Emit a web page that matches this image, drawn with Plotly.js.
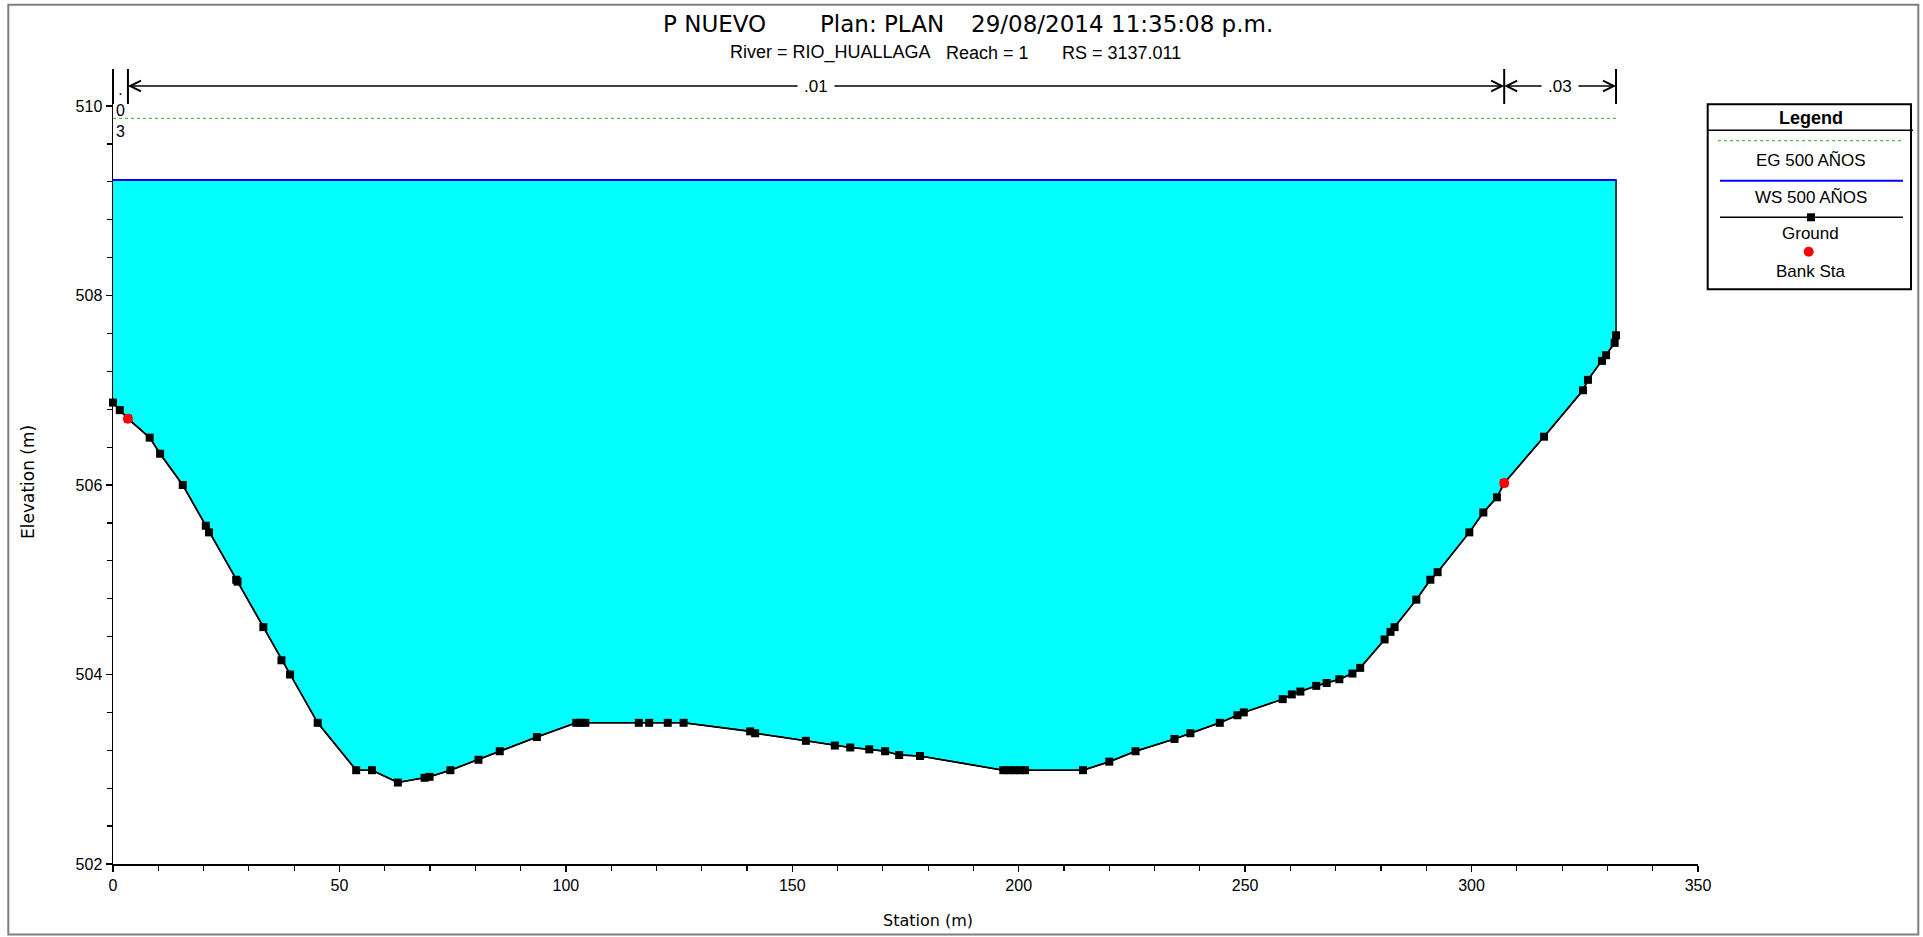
<!DOCTYPE html>
<html>
<head>
<meta charset="utf-8">
<script src="https://cdn.plot.ly/plotly-3.0.1.min.js"></script>
<style>
html,body{margin:0;padding:0;background:#fff;}
#chart{width:1923px;height:937px;}
</style>
</head>
<body>
<div id="chart"></div>
<script>
// ---------------- DATA ----------------
const titleParts = ["P NUEVO", "Plan: PLAN", "29/08/2014", "11:35:08 p.m."];
const subtitleParts = ["River = RIO_HUALLAGA", "Reach = 1", "RS = 3137.011"];

const stations = [0, 1.5, 3.3, 8.1, 10.4, 15.4, 20.5, 21.2, 27.2, 27.5, 33.2, 37.2, 39.1, 45.2,
  53.7, 57.2, 62.9, 68.8, 69.9, 74.5, 80.7, 85.4, 93.6, 102.3, 103.3, 104.3, 116.1, 118.4, 122.5, 126.0,
  140.7, 141.8, 153.0, 159.4, 162.8, 167.0, 170.5, 173.6, 178.2, 196.6, 197.8, 199.0, 200.2, 201.4,
  214.2, 220.0, 225.8, 234.4, 237.9, 244.4, 248.3, 249.7, 258.3, 260.3, 262.2, 265.7, 268.0, 270.8,
  273.7, 275.4, 280.8, 282.1, 283.0, 287.8, 290.9, 292.5, 299.5, 302.6, 305.6, 307.2, 316.0, 324.6,
  325.7, 328.8, 329.7, 331.6, 331.9];
const elevations = [506.87, 506.79, 506.70, 506.50, 506.33, 506.00, 505.57, 505.50, 505.00, 504.98, 504.50, 504.15, 504.00, 503.49,
  502.99, 502.99, 502.86, 502.91, 502.92, 502.99, 503.10, 503.19, 503.34, 503.49, 503.49, 503.49, 503.49, 503.49, 503.49, 503.49,
  503.40, 503.38, 503.30, 503.25, 503.23, 503.21, 503.19, 503.15, 503.14, 502.99, 502.99, 502.99, 502.99, 502.99,
  502.99, 503.08, 503.19, 503.32, 503.38, 503.49, 503.57, 503.60, 503.74, 503.79, 503.82, 503.88, 503.91, 503.95,
  504.01, 504.07, 504.37, 504.45, 504.50, 504.79, 505.00, 505.08, 505.50, 505.71, 505.87, 506.02, 506.51, 507.00,
  507.11, 507.31, 507.37, 507.50, 507.58];
const bankStations = [3.3, 307.2];
const bankElevations = [506.70, 506.02];
const wsElevation = 509.22;   // WS 500 AÑOS
const egElevation = 509.87;   // EG 500 AÑOS
const manningN = [".03", ".01", ".03"];
const legendLabels = ["EG 500 AÑOS", "WS 500 AÑOS", "Ground", "Bank Sta"];
const xAxisTitle = "Station (m)";
const yAxisTitle = "Elevation (m)";

// ---------------- LAYOUT GEOMETRY ----------------
const FIG_W = 1923, FIG_H = 937;
const M = {l:113, r:225, t:69, b:73};
const PW = FIG_W - M.l - M.r, PH = FIG_H - M.t - M.b;
const PX = px => (px - M.l) / PW;
const PY = py => (M.t + PH - py) / PH;
const Y_MIN = 502, Y_MAX = 502 + PH / 94.75;
const yOfPx = py => Y_MIN + (M.t + PH - py) / PH * (Y_MAX - Y_MIN);

const ARIAL = "Liberation Sans, Arial, sans-serif";
const DEJA = "DejaVu Sans, Verdana, sans-serif";

const xFirst = stations[0], xLast = stations[stations.length - 1];

// ---------------- TRACES ----------------
const waterX = stations.concat([xLast, xFirst]);
const waterY = elevations.concat([wsElevation, wsElevation]);

const traces = [
  {x: waterX, y: waterY, type: 'scatter', mode: 'lines', fill: 'toself',
   fillcolor: '#00FFFF', line: {color: '#000000', width: 1.5}, hoverinfo: 'skip', showlegend: false},
  {x: [xFirst, xLast], y: [egElevation, egElevation], type: 'scatter', mode: 'lines',
   line: {color: '#2EA82E', width: 1, dash: 'dot'}, showlegend: false, name: legendLabels[0]},
  {x: [xFirst, xLast], y: [wsElevation, wsElevation], type: 'scatter', mode: 'lines',
   line: {color: '#0000FF', width: 2}, showlegend: false, name: legendLabels[1]},
  {x: stations, y: elevations, type: 'scatter', mode: 'lines+markers', cliponaxis: false,
   line: {color: '#000000', width: 1.6}, marker: {symbol: 'square', size: 8, color: '#000000'},
   showlegend: false, name: legendLabels[2]},
  {x: bankStations, y: bankElevations, type: 'scatter', mode: 'markers', cliponaxis: false,
   marker: {symbol: 'circle', size: 10, color: '#FF0000'}, showlegend: false, name: legendLabels[3]}
];

// ---------------- ANNOTATIONS & SHAPES ----------------
const annotations = [];
const shapes = [];

// outer frame
shapes.push({type: 'rect', xref: 'paper', yref: 'paper', x0: PX(8.3), x1: PX(1918.3), y0: PY(934.5), y1: PY(4.7),
  line: {color: '#7F7F7F', width: 2}, layer: 'below'});

// title pieces
const titleLeft = [661, 818, 969, 1109];
titleParts.forEach((t, i) => annotations.push({xref: 'paper', yref: 'paper', x: PX(titleLeft[i]), y: PY(24.5),
  xanchor: 'left', yanchor: 'middle', text: t, showarrow: false, font: {family: DEJA, size: 23, color: '#000'}}));
const subLeft = [727.7, 943.8, 1059.8];
subtitleParts.forEach((t, i) => annotations.push({xref: 'paper', yref: 'paper', x: PX(subLeft[i]), y: PY(52.7),
  xanchor: 'left', yanchor: 'middle', text: t, showarrow: false, font: {family: ARIAL, size: 18, color: '#000'}}));

// axis titles
annotations.push({xref: 'paper', yref: 'paper', x: PX(928), y: PY(920), text: xAxisTitle, showarrow: false,
  xanchor: 'center', yanchor: 'middle', font: {family: DEJA, size: 16, color: '#000'}});
annotations.push({xref: 'paper', yref: 'paper', x: PX(28), y: PY(482), text: yAxisTitle, showarrow: false,
  textangle: -90, xanchor: 'center', yanchor: 'middle', font: {family: DEJA, size: 17, color: '#000'}});

// Manning's n row
const nBreaks = [xFirst].concat(bankStations, [xLast]);
const nRowY = yOfPx(86);
const tickTop = Y_MAX, tickBot = yOfPx(104);
nBreaks.forEach(b => shapes.push({type: 'line', xref: 'x', yref: 'y', x0: b, x1: b, y0: tickBot, y1: tickTop,
  line: {color: '#000', width: 2}}));
for (let i = 0; i < manningN.length; i++) {
  const a = nBreaks[i], b = nBreaks[i + 1], mid = (a + b) / 2;
  const widthPx = (b - a) / 350 * PW;
  if (widthPx > 60) {
    [a, b].forEach(end => annotations.push({xref: 'x', yref: 'y', axref: 'x', ayref: 'y', x: end, y: nRowY,
      ax: mid, ay: nRowY, text: '', showarrow: true, arrowhead: 5, arrowsize: 1.4, arrowwidth: 1.5,
      arrowcolor: '#000', standoff: 0, startstandoff: 0}));
    annotations.push({xref: 'x', yref: 'y', x: mid, y: nRowY, text: manningN[i], showarrow: false,
      bgcolor: '#FFFFFF', borderpad: 6, font: {family: ARIAL, size: 17, color: '#000'}});
  } else {
    annotations.push({xref: 'x', yref: 'y', x: mid, y: yOfPx(110), text: manningN[i].split('').join('<br>'),
      showarrow: false, yanchor: 'middle', font: {family: ARIAL, size: 16, color: '#000'}});
  }
}

// custom legend box
const LB = {x0: 1707.7, x1: 1911, y0: 104.3, y1: 289.3};
shapes.push({type: 'rect', xref: 'paper', yref: 'paper', x0: PX(LB.x0), x1: PX(LB.x1), y0: PY(LB.y1), y1: PY(LB.y0),
  line: {color: '#000', width: 2}, fillcolor: '#FFFFFF', layer: 'below'});
shapes.push({type: 'line', xref: 'paper', yref: 'paper', x0: PX(LB.x0), x1: PX(1913), y0: PY(130.3), y1: PY(130.3),
  line: {color: '#000', width: 1.5}});
annotations.push({xref: 'paper', yref: 'paper', x: PX(1811), y: PY(117.7), text: '<b>Legend</b>', showarrow: false,
  xanchor: 'center', yanchor: 'middle', font: {family: ARIAL, size: 18, color: '#000'}});
shapes.push({type: 'line', xref: 'paper', yref: 'paper', x0: PX(1718), x1: PX(1902), y0: PY(140.7), y1: PY(140.7),
  line: {color: '#2EA82E', width: 1, dash: 'dot'}});
shapes.push({type: 'line', xref: 'paper', yref: 'paper', x0: PX(1720), x1: PX(1903), y0: PY(180.7), y1: PY(180.7),
  line: {color: '#0000FF', width: 2}});
shapes.push({type: 'line', xref: 'paper', yref: 'paper', x0: PX(1720), x1: PX(1903), y0: PY(217.3), y1: PY(217.3),
  line: {color: '#000', width: 1.6}});
shapes.push({type: 'rect', xref: 'paper', yref: 'paper', x0: PX(1807), x1: PX(1815), y0: PY(221.3), y1: PY(213.3),
  line: {width: 0}, fillcolor: '#000'});
shapes.push({type: 'circle', xref: 'paper', yref: 'paper', x0: PX(1803.7), x1: PX(1813.7), y0: PY(256.7), y1: PY(246.7),
  line: {width: 0}, fillcolor: '#FF0000'});
const legendTextY = [160.7, 197.3, 234, 271.7];
legendLabels.forEach((t, i) => annotations.push({xref: 'paper', yref: 'paper', x: PX(1811), y: PY(legendTextY[i]),
  text: t, showarrow: false, xanchor: 'center', yanchor: 'middle', font: {family: ARIAL, size: 17, color: '#000'}}));

// ---------------- LAYOUT ----------------
const axisCommon = {showgrid: false, zeroline: false, showline: true, linecolor: '#000', linewidth: 1.5,
  ticks: 'outside', ticklen: 6, tickwidth: 1.5, tickcolor: '#000', mirror: false,
  tickfont: {family: ARIAL, size: 16, color: '#000'}};

const layout = {
  width: FIG_W, height: FIG_H, margin: M,
  paper_bgcolor: '#FFFFFF', plot_bgcolor: '#FFFFFF', showlegend: false,
  xaxis: Object.assign({}, axisCommon, {range: [0, 350], tick0: 0, dtick: 50,
    minor: {dtick: 10, ticks: 'outside', ticklen: 5, tickwidth: 1.2, tickcolor: '#000', showgrid: false}}),
  yaxis: Object.assign({}, axisCommon, {range: [Y_MIN, Y_MAX], tick0: 502, dtick: 2,
    minor: {tick0: 502, dtick: 0.4, ticks: 'outside', ticklen: 5, tickwidth: 1.2, tickcolor: '#000', showgrid: false}}),
  annotations: annotations,
  shapes: shapes
};

Plotly.newPlot('chart', traces, layout, {displayModeBar: false, staticPlot: true});
</script>
</body>
</html>
